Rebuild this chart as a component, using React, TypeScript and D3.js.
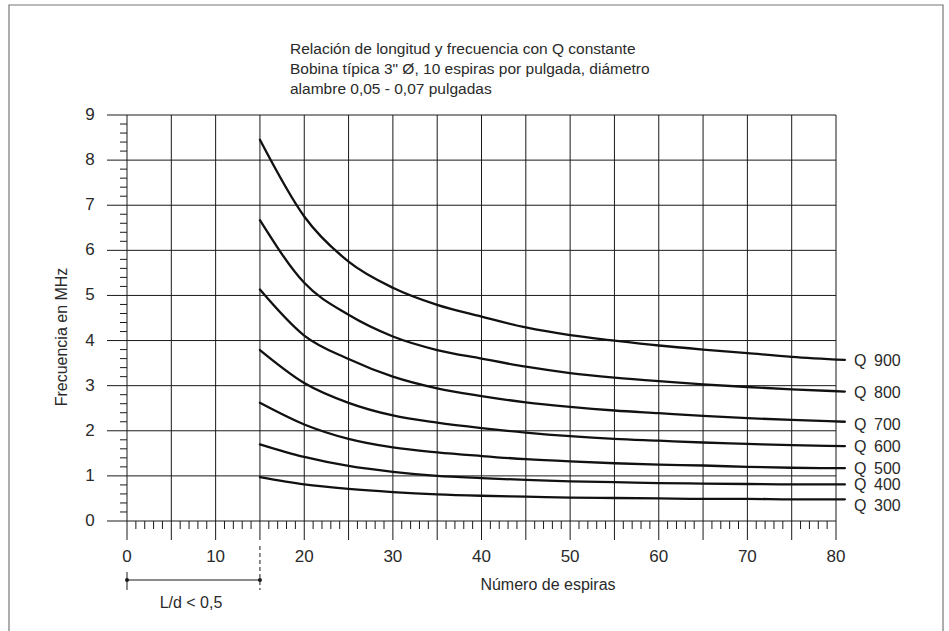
import { useEffect, useRef } from 'react';
import * as d3 from 'd3';

// número de espiras at which each curve was read
const turns = [15, 20, 25, 30, 35, 40, 45, 50, 55, 60, 65, 70, 75, 81];

// frecuencia (MHz) per curve
const q900 = [8.45, 6.75, 5.75, 5.17, 4.79, 4.53, 4.29, 4.12, 4.0, 3.89, 3.8, 3.72, 3.64, 3.57];
const q800 = [6.67, 5.28, 4.57, 4.09, 3.79, 3.6, 3.42, 3.28, 3.18, 3.1, 3.03, 2.97, 2.92, 2.87];
const q700 = [5.13, 4.11, 3.59, 3.2, 2.94, 2.77, 2.63, 2.53, 2.45, 2.39, 2.33, 2.28, 2.24, 2.2];
const q600 = [3.79, 3.06, 2.62, 2.34, 2.18, 2.06, 1.96, 1.88, 1.82, 1.78, 1.74, 1.71, 1.68, 1.66];
const q500 = [2.62, 2.14, 1.82, 1.63, 1.52, 1.44, 1.37, 1.32, 1.28, 1.25, 1.23, 1.2, 1.18, 1.17];
const q400 = [1.7, 1.42, 1.22, 1.09, 1.0, 0.95, 0.91, 0.88, 0.86, 0.84, 0.83, 0.82, 0.81, 0.81];
const q300 = [0.97, 0.81, 0.71, 0.64, 0.59, 0.56, 0.54, 0.52, 0.51, 0.5, 0.49, 0.49, 0.48, 0.48];

const seriesNames = ['900', '800', '700', '600', '500', '400', '300'];
const seriesValues = [q900, q800, q700, q600, q500, q400, q300];

const yTicks = [0, 1, 2, 3, 4, 5, 6, 7, 8, 9];
const xTicks = [0, 10, 20, 30, 40, 50, 60, 70, 80];

const titleLines = [
  'Relación de longitud y frecuencia con Q constante',
  'Bobina típica 3" Ø, 10 espiras por pulgada, diámetro',
  'alambre 0,05 - 0,07 pulgadas',
];

const FONT = '"Liberation Sans Narrow", "Liberation Sans", Arial, sans-serif';
const INK = '#1a1a1a';
const TEXT = '#2a2a2a';

export default function App() {
  const ref = useRef<SVGSVGElement>(null);

  useEffect(() => {
    const svg = d3.select(ref.current);
    svg.selectAll('*').remove();

    const x = d3.scaleLinear().domain([0, 80]).range([127, 836]);
    const y = d3.scaleLinear().domain([0, 9]).range([521, 115]);

    // outer frame (open at the bottom)
    svg.append('path')
      .attr('d', 'M9,640 V5 H943 V640')
      .style('fill', 'none').style('stroke', '#777').style('stroke-width', 1.2);

    // title
    const title = svg.append('text')
      .style('font-family', FONT).style('font-size', '15.5px').style('fill', TEXT);
    titleLines.forEach((t, i) => {
      title.append('tspan').attr('x', 290).attr('y', 54 + i * 20).text(t);
    });

    const g = svg.append('g');

    // horizontal grid
    yTicks.forEach(v => {
      g.append('line')
        .attr('x1', 107).attr('x2', x(80)).attr('y1', y(v)).attr('y2', y(v))
        .style('stroke', INK).style('stroke-width', 1);
    });

    // vertical grid every 5 turns, running below the axis
    d3.range(0, 81, 5).forEach(t => {
      g.append('line')
        .attr('x1', x(t)).attr('x2', x(t)).attr('y1', y(9)).attr('y2', y(0) + 19)
        .style('stroke', INK).style('stroke-width', 1);
    });

    // minor ticks on y
    d3.range(0, 9.01, 0.2).filter(v => Math.abs(v - Math.round(v)) > 0.01).forEach(v => {
      g.append('line')
        .attr('x1', x(0) - 7).attr('x2', x(0)).attr('y1', y(v)).attr('y2', y(v))
        .style('stroke', INK).style('stroke-width', 1);
    });

    // minor ticks on x
    d3.range(0, 81, 1).filter(t => t % 5 !== 0).forEach(t => {
      g.append('line')
        .attr('x1', x(t)).attr('x2', x(t)).attr('y1', y(0)).attr('y2', y(0) + 8)
        .style('stroke', INK).style('stroke-width', 1);
    });

    // tick labels
    yTicks.forEach(v => {
      g.append('text')
        .attr('x', 90).attr('y', y(v) + 5)
        .attr('text-anchor', 'middle')
        .style('font-family', FONT).style('font-size', '17px').style('fill', TEXT)
        .text(v);
    });
    xTicks.forEach(t => {
      g.append('text')
        .attr('x', x(t)).attr('y', 562)
        .attr('text-anchor', 'middle')
        .style('font-family', FONT).style('font-size', '17px').style('fill', TEXT)
        .text(t);
    });

    // axis titles
    g.append('text')
      .attr('transform', `translate(67,${(y(0) + y(9)) / 2 + 19}) rotate(-90)`)
      .attr('text-anchor', 'middle')
      .style('font-family', FONT).style('font-size', '16px').style('fill', TEXT)
      .text('Frecuencia en MHz');
    g.append('text')
      .attr('x', 548).attr('y', 590)
      .attr('text-anchor', 'middle')
      .style('font-family', FONT).style('font-size', '16px').style('fill', TEXT)
      .text('Número de espiras');

    // L/d < 0,5 bracket
    const by = 580;
    g.append('line').attr('x1', x(0)).attr('x2', x(15)).attr('y1', by).attr('y2', by)
      .style('stroke', INK).style('stroke-width', 1.2);
    g.append('line').attr('x1', x(0)).attr('x2', x(0)).attr('y1', by - 8).attr('y2', by + 10)
      .style('stroke', INK).style('stroke-width', 1);
    g.append('line').attr('x1', x(15)).attr('x2', x(15)).attr('y1', y(0) + 25).attr('y2', by + 10)
      .style('stroke', INK).style('stroke-width', 1).style('stroke-dasharray', '4,3');
    [0, 15].forEach(t => {
      g.append('circle').attr('cx', x(t)).attr('cy', by).attr('r', 2).style('fill', INK);
    });
    g.append('text')
      .attr('x', 191).attr('y', 608)
      .attr('text-anchor', 'middle')
      .style('font-family', FONT).style('font-size', '16px').style('fill', TEXT)
      .text('L/d < 0,5');

    // curves
    const line = d3.line<number>()
      .x((_, i) => x(turns[i]))
      .y(d => y(d))
      .curve(d3.curveMonotoneX);

    seriesValues.forEach((vals, si) => {
      g.append('path').datum(vals).attr('d', line)
        .style('fill', 'none').style('stroke', '#111').style('stroke-width', 2.3)
        .style('stroke-linecap', 'round');

      const last = vals[vals.length - 1];
      const ly = y(last) + 6 + (si === seriesValues.length - 1 ? 6 : 0) + (si === 2 ? 2 : 0);
      g.append('text')
        .attr('x', 854).attr('y', ly)
        .style('font-family', FONT).style('font-size', '16px').style('fill', TEXT)
        .text('Q');
      g.append('text')
        .attr('x', 874).attr('y', ly)
        .style('font-family', FONT).style('font-size', '16px').style('fill', TEXT)
        .text(seriesNames[si]);
    });
  }, []);

  return (
    <svg ref={ref} width={949} height={631}
      style={{ position: 'fixed', left: 0, top: 0, background: '#fff' }} />
  );
}
